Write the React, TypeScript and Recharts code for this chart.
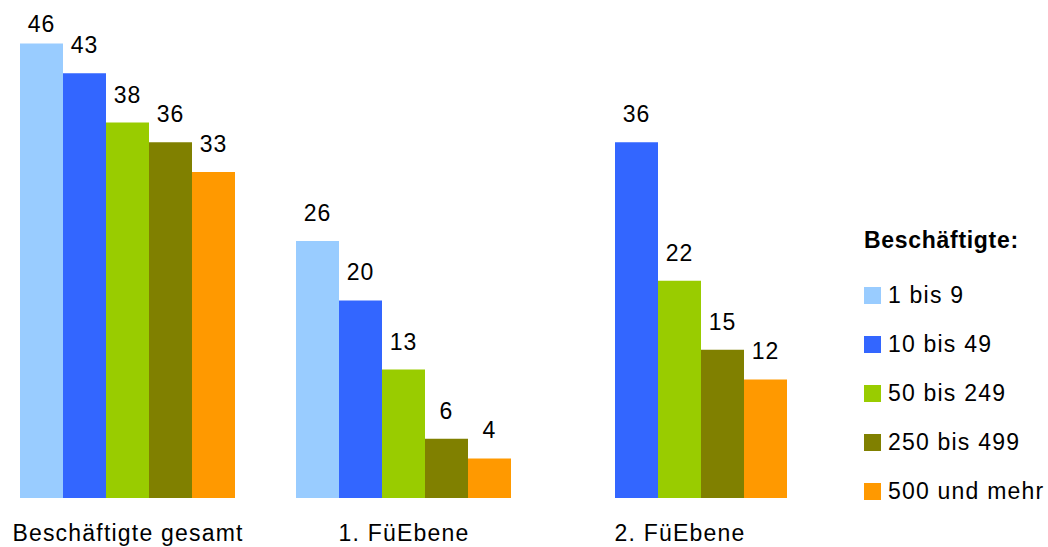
import { Bar, BarChart, LabelList, Legend, XAxis, YAxis } from "recharts";

const categories = ["Beschäftigte gesamt", "1. FüEbene", "2. FüEbene"];

const s1bis9 = [46, 26, null];
const s10bis49 = [43, 20, 36];
const s50bis249 = [38, 13, 22];
const s250bis499 = [36, 6, 15];
const s500plus = [33, 4, 12];

const SERIES = [
  { key: "s1", name: "1 bis 9", values: s1bis9, color: "#99CCFF" },
  { key: "s2", name: "10 bis 49", values: s10bis49, color: "#3366FF" },
  { key: "s3", name: "50 bis 249", values: s50bis249, color: "#99CC00" },
  { key: "s4", name: "250 bis 499", values: s250bis499, color: "#808000" },
  { key: "s5", name: "500 und mehr", values: s500plus, color: "#FF9900" },
];

const data = categories.map((name, i) => {
  const row: Record<string, string | number | null> = { name };
  SERIES.forEach((s) => {
    row[s.key] = s.values[i];
  });
  return row;
});

const FONT = '"Liberation Sans", Arial, sans-serif';

function CategoryTick({ x, y, payload }: any) {
  return (
    <text
      x={x}
      y={y + 43}
      textAnchor="middle"
      fontSize={23}
      letterSpacing={1.2}
      fontFamily={FONT}
      fill="#000"
    >
      {payload.value}
    </text>
  );
}

// value label above the bar, kept inside the chart at the top (like Excel does)
function ValueLabel({ x, y, width, value }: any) {
  if (value == null || value === "") return null;
  return (
    <text
      x={Number(x) + Number(width) / 2}
      y={Math.max(Number(y) - 20, 32)}
      textAnchor="middle"
      fontSize={23}
      letterSpacing={1}
      fontFamily={FONT}
      fill="#000"
    >
      {value}
    </text>
  );
}

function LegendBox() {
  return (
    <div style={{ fontFamily: FONT, color: "#000" }}>
      <div
        style={{
          fontSize: 23,
          fontWeight: "bold",
          letterSpacing: 0.7,
          lineHeight: "24px",
          height: 43,
        }}
      >
        Beschäftigte:
      </div>
      {SERIES.map((s) => (
        <div
          key={s.key}
          style={{
            display: "flex",
            alignItems: "center",
            height: 49,
            fontSize: 23,
            letterSpacing: 1.2,
            whiteSpace: "nowrap",
          }}
        >
          <span
            style={{
              display: "inline-block",
              width: 17,
              height: 17,
              background: s.color,
              marginRight: 7,
            }}
          />
          <span>{s.name}</span>
        </div>
      ))}
    </div>
  );
}

export default function App() {
  return (
    <div style={{ position: "absolute", left: -10, top: 0 }}>
      <BarChart
        width={1058}
        height={547}
        data={data}
        margin={{ top: 4, right: 46, left: 0, bottom: 0 }}
        barGap={0}
        barCategoryGap={30}
      >
        <XAxis
          dataKey="name"
          axisLine={false}
          tickLine={false}
          tickSize={0}
          tickMargin={0}
          height={49}
          tick={<CategoryTick />}
          interval={0}
        />
        <YAxis hide domain={[0, 50]} />
        <Legend
          layout="vertical"
          verticalAlign="top"
          align="right"
          content={<LegendBox />}
          wrapperStyle={{ position: "absolute", left: 874, top: 228, width: 184 }}
        />
        {SERIES.map((s) => (
          <Bar
            key={s.key}
            dataKey={s.key}
            name={s.name}
            fill={s.color}
            isAnimationActive={false}
          >
            <LabelList dataKey={s.key} content={<ValueLabel />} />
          </Bar>
        ))}
      </BarChart>
    </div>
  );
}
